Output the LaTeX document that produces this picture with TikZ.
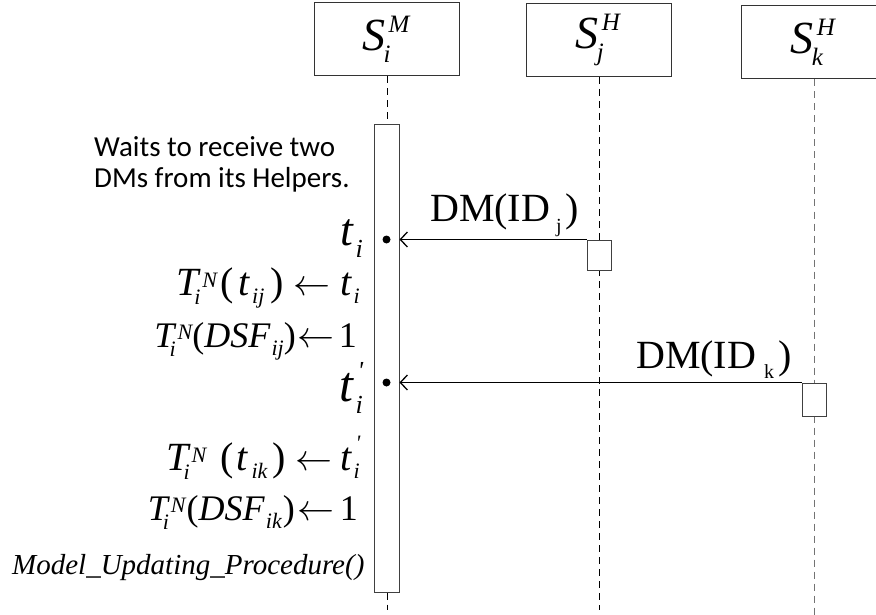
\documentclass[tikz,border=0pt]{standalone}
\usepackage{fontspec}
\setmainfont{Liberation Serif}
\newfontfamily\notefont{Carlito}
\usetikzlibrary{arrows.meta}
% small italic script of a given size, raised or lowered
\newcommand{\scr}[3]{\raisebox{#2}{\fontsize{#1}{#1}\selectfont\itshape #3}}
\newcommand{\TN}{\textit{T}\rlap{\kern-7pt\scr{22}{-9pt}{i}}\kern1pt\scr{22}{8pt}{N}}
\newcommand{\assign}{\resizebox{37pt}{!}{$\leftarrow$}}
\newcommand{\prm}{\textquotesingle}
\tikzset{
  objbox/.style={draw=black!80, line width=1pt, fill=white, inner sep=0pt,
    minimum width=145pt, minimum height=73pt, font=\fontsize{46}{50}\selectfont},
  lifeline/.style={line width=1pt, dash pattern=on 7pt off 5pt},
  actbox/.style={draw=black!75, line width=1pt, fill=white, inner sep=0pt},
  msg/.style={line width=1.6pt, -{Straight Barb[length=7pt,width=15pt,line width=1.3pt]}},
  eqn/.style={anchor=base east, inner sep=0pt, font=\fontsize{40}{44}\selectfont},
  bigt/.style={anchor=base east, inner sep=0pt, font=\fontsize{46}{50}\selectfont},
  msglabel/.style={anchor=base west, inner sep=0pt, font=\fontsize{40}{44}\selectfont},
}

\begin{document}
\begin{tikzpicture}[x=1pt, y=-1pt, line cap=butt]
  \useasboundingbox (0,0) rectangle (876,615);
  % the three sites
  \node[objbox] (mi) at (387,39.5) {\textit{S}\rlap{\kern-2pt\scr{25}{-12pt}{i}}\kern3pt\scr{25}{18pt}{M}\kern2pt};
  \node[objbox] (hj) at (599,40) {\textit{S}\rlap{\kern-2pt\scr{25}{-12pt}{j}}\kern3pt\scr{25}{18pt}{H}\kern2pt};
  \node[objbox, minimum width=146pt] (hk) at (814,42.5) {\textit{S}\rlap{\kern-2pt\scr{25}{-12pt}{k}}\kern3pt\scr{25}{18pt}{H}\kern2pt};
  % lifelines
  \coordinate (mi end) at (387,610);
  \coordinate (hj end) at (599,610);
  \coordinate (hk end) at (814,615);
  \draw[lifeline] (mi.south) -- (mi end);
  \draw[lifeline] (hj.south) -- (hj end);
  \draw[lifeline, draw=black!55] (hk.south) -- (hk end);
  % activation of the master
  \node[actbox, minimum width=25pt, minimum height=467pt] (act) at (386.5,358.5) {};
  % the helpers send their DMs
  \node[actbox, minimum width=24pt, minimum height=30pt] (sj) at (599,255) {};
  \node[actbox, minimum width=24pt, minimum height=33pt] (sk) at (814,399.5) {};
  \draw[msg] (sj.north west) -- (act.east |- sj.north west);
  \draw[msg] (sk.north west) -- (act.east |- sk.north west);
  \fill (act.center |- sj.north west) circle (4pt);
  \fill (act.center |- sk.north west) circle (4pt);
  \node[msglabel] (dmj) at (430,222) {DM(ID\kern6pt\raisebox{-11pt}{\fontsize{20}{20}\selectfont j}\kern4pt)};
  \node[msglabel] (dmk) at (636,368) {DM(ID\kern8pt\raisebox{-10pt}{\fontsize{20}{20}\selectfont k}\kern4pt)};
  % what the master does meanwhile
  \node[anchor=base west, inner sep=0pt, align=left, font=\notefont\fontsize{29}{31}\selectfont]
    (wait) at (94,187) {Waits to receive two\\DMs from its Helpers.};
  \node[bigt] (ti) at (363,245) {\textit{t}\kern1pt\scr{26}{-12pt}{i}};
  \node[eqn] (e1) at (360,295) {\TN\kern4pt(\kern4pt\textit{t}\kern2pt\scr{22}{-8pt}{ij}\kern6pt)\kern10pt\assign\kern10pt\textit{t}\kern1pt\scr{22}{-8pt}{i}};
  \node[eqn, font=\fontsize{36}{40}\selectfont] (e2) at (357,347) {\TN(\textit{DSF}\kern1pt\scr{22}{-8pt}{ij})\kern2pt\assign\kern4pt1};
  \node[bigt, font=\fontsize{50}{54}\selectfont] (tip) at (363,401) {\textit{t}\rlap{\kern3pt\scr{26}{22pt}{\prm}}\kern1pt\scr{26}{-12pt}{i}};
  \node[eqn] (e3) at (360,470) {\TN\kern14pt(\kern3pt\textit{t}\kern3pt\scr{22}{-8pt}{ik}\kern5pt)\kern10pt\assign\kern8pt\textit{t}\rlap{\kern3pt\scr{22}{20pt}{\prm}}\kern1pt\scr{22}{-8pt}{i}};
  \node[eqn, font=\fontsize{36}{40}\selectfont] (e4) at (358,520) {\TN\kern1pt(\textit{DSF}\kern1pt\scr{22}{-8pt}{ik}\kern1pt)\kern3pt\assign\kern5pt1};
  \node[anchor=base west, inner sep=0pt, font=\itshape\fontsize{29}{32}\selectfont]
    (proc) at (12,574) {Model\_Updating\_Procedure()};
\end{tikzpicture}
\end{document}
